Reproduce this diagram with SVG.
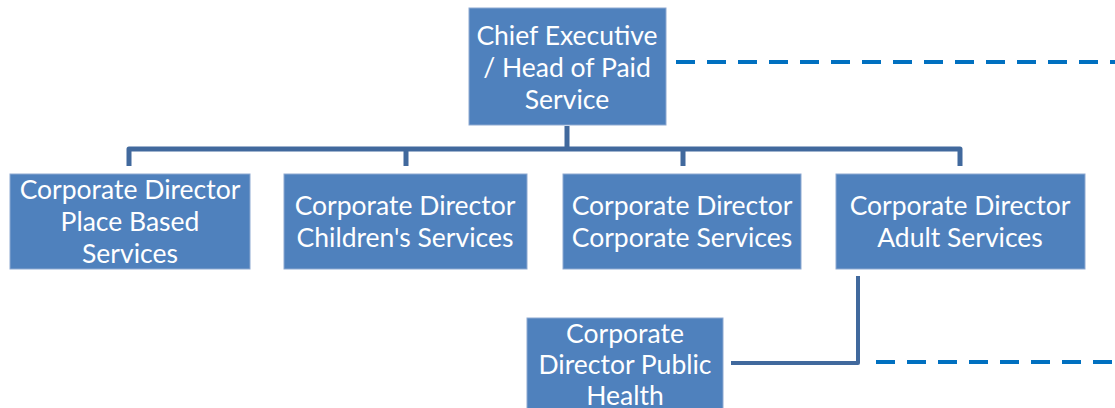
<svg xmlns="http://www.w3.org/2000/svg" width="1115" height="408" viewBox="0 0 1115 408">
<style>
.box{fill:#4F81BD;stroke:#8EA9D1;stroke-width:1}
.t{font-family:Lato,"Open Sans",sans-serif;font-size:26.5px;fill:#fff;text-anchor:middle;dominant-baseline:central}
.ln{fill:none;stroke:#41699D;stroke-width:5;stroke-linejoin:round}
.ln2{fill:none;stroke:#41699D;stroke-width:4;stroke-linejoin:round}
.dash{fill:none;stroke:#0070C0;stroke-width:4;stroke-dasharray:19 12}
</style>
<rect width="1115" height="408" fill="#fff"/>
<g id="connectors">
<path class="ln" d="M567 126V149M129 166V149H960V166M406 149V166M683 149V166"/>
<path class="ln2" d="M858 276V363H731"/>
<path class="dash" d="M676 62H1115"/>
<path class="dash" d="M876 362H1115"/>
</g>
<g id="chief">
<rect class="box" x="469" y="8" width="197" height="117"/>
<text class="t" x="567" y="35">Chief Executive</text>
<text class="t" x="567" y="67">/ Head of Paid</text>
<text class="t" x="567" y="99">Service</text>
</g>
<g id="place">
<rect class="box" x="10" y="174" width="240" height="95"/>
<text class="t" x="130" y="189">Corporate Director</text>
<text class="t" x="130" y="221">Place Based</text>
<text class="t" x="130" y="253">Services</text>
</g>
<g id="children">
<rect class="box" x="284" y="174" width="243" height="95"/>
<text class="t" x="405" y="205">Corporate Director</text>
<text class="t" x="405" y="237">Children's Services</text>
</g>
<g id="corporate">
<rect class="box" x="563" y="174" width="238" height="95"/>
<text class="t" x="682" y="205">Corporate Director</text>
<text class="t" x="682" y="237">Corporate Services</text>
</g>
<g id="adult">
<rect class="box" x="836" y="174" width="249" height="95"/>
<text class="t" x="960" y="205">Corporate Director</text>
<text class="t" x="960" y="237">Adult Services</text>
</g>
<g id="public">
<rect class="box" x="527" y="318" width="196" height="95"/>
<text class="t" x="625" y="333">Corporate</text>
<text class="t" x="625" y="364">Director Public</text>
<text class="t" x="625" y="395">Health</text>
</g>
</svg>
